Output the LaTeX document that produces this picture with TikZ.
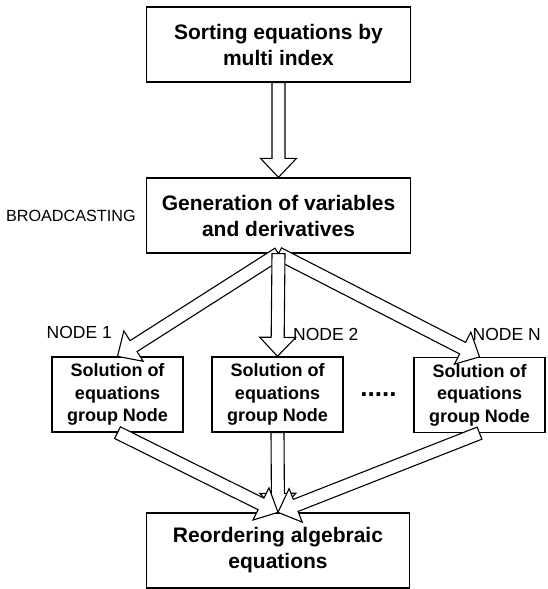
\documentclass[tikz,border=0pt]{standalone}
\usepackage{fontspec}
\setmainfont{Liberation Sans}
\usetikzlibrary{positioning,calc}

% hollow block arrow from #1 to #2
\newcommand{\fatarrow}[2]{%
  \path (#1) coordinate (fa-s) (#2) coordinate (fa-e);
  \path ($(fa-e)!19pt!(fa-s)$) coordinate (fa-h);
  \draw[fat] ($(fa-s)!6.5pt!90:(fa-e)$) -- ($(fa-h)!6.5pt!-90:(fa-s)$)
    -- ($(fa-h)!18pt!-90:(fa-s)$) -- (fa-e)
    -- ($(fa-h)!18pt!90:(fa-s)$) -- ($(fa-h)!6.5pt!90:(fa-s)$)
    -- ($(fa-s)!6.5pt!-90:(fa-e)$) -- cycle;
}

\begin{document}
\begin{tikzpicture}[x=1pt, y=-1pt,
    box/.style={draw, line width=1.3pt, rectangle, align=center, minimum width=264pt, minimum height=75pt, font=\fontsize{21}{26}\selectfont\bfseries},
    small/.style={box, minimum width=131pt, font=\fontsize{18}{22.5}\selectfont\bfseries},
    lbl/.style={inner sep=0pt, font=\fontsize{17.5}{20}\selectfont},
    fat/.style={draw, fill=white, line width=1.1pt, line join=miter}]
    \useasboundingbox (0,0) rectangle (547,589);
    % Nodes
    \node (sort) [box] at (278.5,44.5) {Sorting equations by\\multi index};
    \node (gen) [box] at (278.5,215.5) {Generation of variables\\and derivatives};
    \node (sol1) [small] at (117.5,394.5) {Solution of\\equations\\group Node};
    \node (sol2) [small] at (277.5,394.5) {Solution of\\equations\\group Node};
    \node (solN) [small] at (479.5,395) {Solution of\\equations\\group Node};
    \node (reorder) [box, minimum width=263pt] at (278,550.5) {Reordering algebraic\\equations};

    % Labels
    \node (bcast) [lbl, font=\fontsize{16.2}{19}\selectfont, left=10pt of gen] {BROADCASTING};
    \node (lab1) [lbl, above left=17pt and 5.5pt of sol1.north] {NODE 1};
    \node (lab2) [lbl, above right=15pt and 15.5pt of sol2.north] {NODE 2};
    \node (labN) [lbl, above right=16pt and -7pt of solN.north] {NODE N};
    \node (dots) [inner sep=0pt, font=\fontsize{26}{26}\selectfont\bfseries] at ($(sol2.east)!0.5!(solN.west)$) {.....};

    % Connectors
    \fatarrow{sort.south}{gen.north}
    \fatarrow{gen.south}{sol1.north}
    \fatarrow{gen.south}{solN.north}
    \fatarrow{gen.south}{sol2.north}
    \fatarrow{sol2.south}{reorder.north}
    \fatarrow{sol1.south}{reorder.north}
    \fatarrow{solN.south}{reorder.north}
\end{tikzpicture}
\end{document}
